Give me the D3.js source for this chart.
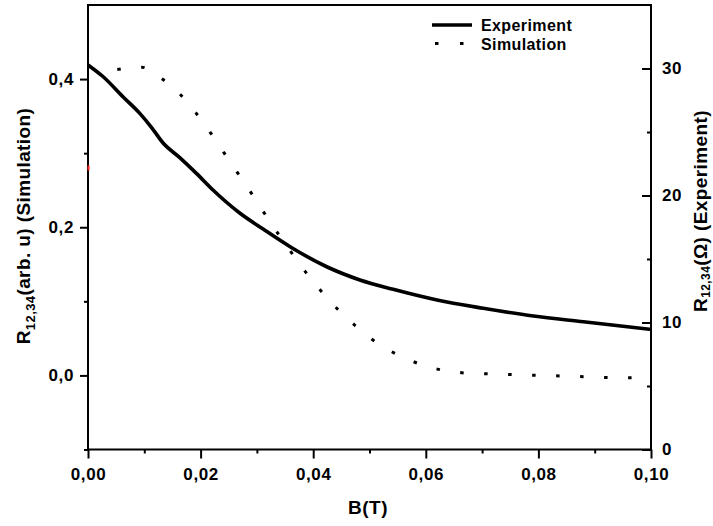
<!DOCTYPE html>
<html>
<head>
<meta charset="utf-8">
<script src="https://cdn.jsdelivr.net/npm/d3@7"></script>
<style>
  html, body { margin: 0; padding: 0; background: #fff; }
  svg { display: block; }
  text { font-family: "Liberation Sans", Arial, sans-serif; fill: #000; }
</style>
</head>
<body>
<svg id="chart" width="713" height="526"></svg>
<script>
// Magnetic field B (T) and measured four-terminal resistance R12,34 (Ω)
const expB = [0, 0.0027, 0.0062, 0.0092, 0.0113, 0.0133, 0.0163, 0.0193, 0.0222, 0.0270,
              0.0311, 0.0359, 0.0424, 0.0483, 0.0542, 0.0620, 0.0702, 0.0791, 0.0880, 0.1000];
const expR = [30.28, 29.35, 27.78, 26.47, 25.35, 24.15, 22.98, 21.72, 20.43, 18.60,
              17.36, 15.97, 14.39, 13.35, 12.61, 11.77, 11.12, 10.51, 10.06, 9.46];

// Simulated R12,34 (arb. u) versus B (T)
const simB = [0.0052, 0.0095, 0.0132, 0.0163, 0.0192, 0.0219, 0.0242, 0.0267, 0.0291, 0.0314,
              0.0338, 0.0363, 0.0389, 0.0415, 0.0444, 0.0475, 0.0511, 0.0547, 0.0587, 0.0630,
              0.0675, 0.0717, 0.0762, 0.0805, 0.0849, 0.0893, 0.0938, 0.1000];
const simR = [0.413, 0.416, 0.400, 0.380, 0.354, 0.326, 0.300, 0.272, 0.245, 0.218,
              0.191, 0.164, 0.137, 0.113, 0.089, 0.067, 0.045, 0.029, 0.016, 0.007,
              0.003, 0.002, 0.001, 0.000, -0.001, -0.002, -0.003, -0.003];

// Tick values
const xMajor = [0, 0.02, 0.04, 0.06, 0.08, 0.10];
const xMinor = [0.01, 0.03, 0.05, 0.07, 0.09];
const leftMajor = [0.0, 0.2, 0.4];
const leftMinor = [-0.1, 0.1, 0.3];
const rightMajor = [0, 10, 20, 30];
const rightMinor = [5, 15, 25];

const seriesNames = ["Experiment", "Simulation"];

const svg = d3.select("#chart");
const L = 88, R = 651, T = 5, B = 449.5;

const x = d3.scaleLinear().domain([0, 0.1]).range([L, R]);
const yL = d3.scaleLinear().domain([-0.1, 0.5]).range([B, T]);
const yR = d3.scaleLinear().domain([0, 35]).range([B, T]);

const comma = f => v => f(v).replace(".", ",");

function styleAxis(g, fontSize) {
  g.select(".domain").remove();
  g.selectAll(".tick line").attr("stroke", "#000").attr("stroke-width", 2);
  g.selectAll(".tick text")
    .style("font-family", "'Liberation Sans', Arial, sans-serif")
    .style("font-weight", "bold")
    .style("font-size", fontSize + "px")
    .style("letter-spacing", "0.6px")
    .attr("fill", "#000");
}

// Bottom axis
svg.append("g").attr("transform", `translate(0,${B})`)
  .call(d3.axisBottom(x).tickValues(xMajor).tickSize(9).tickPadding(9)
        .tickFormat(comma(d3.format(".2f"))))
  .call(g => styleAxis(g, 17));
svg.append("g").attr("transform", `translate(0,${B})`)
  .call(d3.axisBottom(x).tickValues(xMinor).tickSize(4).tickFormat(""))
  .call(g => styleAxis(g, 17));

// Left axis (simulation)
svg.append("g").attr("transform", `translate(${L},0)`)
  .call(d3.axisLeft(yL).tickValues(leftMajor).tickSize(8).tickPadding(6)
        .tickFormat(comma(d3.format(".1f"))))
  .call(g => styleAxis(g, 17));
svg.append("g").attr("transform", `translate(${L},0)`)
  .call(d3.axisLeft(yL).tickValues(leftMinor).tickSize(4).tickFormat(""))
  .call(g => styleAxis(g, 17));

// Right axis (experiment), ticks pointing inward
svg.append("g").attr("transform", `translate(${R},0)`)
  .call(d3.axisRight(yR).tickValues(rightMajor).tickSizeInner(-9).tickSizeOuter(0).tickPadding(11)
        .tickFormat(d3.format("d")))
  .call(g => styleAxis(g, 17));
svg.append("g").attr("transform", `translate(${R},0)`)
  .call(d3.axisRight(yR).tickValues(rightMinor).tickSizeInner(-4).tickSizeOuter(0).tickFormat(""))
  .call(g => styleAxis(g, 17));

// Frame
svg.append("rect").attr("x", L).attr("y", T).attr("width", R - L).attr("height", B - T)
  .attr("fill", "none").attr("stroke", "#000").attr("stroke-width", 2);

// Small red mark on the left axis
svg.append("rect").attr("x", L - 0.5).attr("y", yL(0.28) - 2.5).attr("width", 2).attr("height", 5)
  .attr("fill", "#ff2020");

// Curves
const expLine = d3.line().x(d => x(d[0])).y(d => yR(d[1])).curve(d3.curveMonotoneX);
const simLine = d3.line().x(d => x(d[0])).y(d => yL(d[1])).curve(d3.curveMonotoneX);

svg.append("path").datum(expB.map((b, i) => [b, expR[i]]))
  .attr("d", expLine).attr("fill", "none").attr("stroke", "#000")
  .attr("stroke-width", 3.6).attr("stroke-linejoin", "round");

svg.append("path").datum(simB.map((b, i) => [b, simR[i]]))
  .attr("d", simLine).attr("fill", "none").attr("stroke", "#000")
  .attr("stroke-width", 3).attr("stroke-dasharray", "3.5 20.5");

// Legend
const lg = svg.append("g").attr("class", "legend");
lg.append("line").attr("x1", 432).attr("x2", 472).attr("y1", 25).attr("y2", 25)
  .attr("stroke", "#000").attr("stroke-width", 3.6);
lg.append("line").attr("x1", 435).attr("x2", 472).attr("y1", 43.5).attr("y2", 43.5)
  .attr("stroke", "#000").attr("stroke-width", 3).attr("stroke-dasharray", "3.5 21.5");
lg.selectAll("text.item").data(seriesNames).join("text").attr("class", "item")
  .attr("x", 481).attr("y", (d, i) => 31 + i * 19)
  .style("font-weight", "bold").style("font-size", "16px").style("letter-spacing", "0.4px")
  .text(d => d);

// Axis titles
svg.append("text").attr("x", 368).attr("y", 514).attr("text-anchor", "middle")
  .style("font-weight", "bold").style("font-size", "19px").style("letter-spacing", "0.5px")
  .text("B(T)");

const leftTitle = svg.append("text")
  .attr("transform", "translate(30,226) rotate(-90)").attr("text-anchor", "middle")
  .style("font-weight", "bold").style("font-size", "19px").style("letter-spacing", "0.4px");
leftTitle.append("tspan").text("R");
leftTitle.append("tspan").attr("dy", 5).style("font-size", "13px").text("12,34");
leftTitle.append("tspan").attr("dy", -5).text("(arb. u) (Simulation)");

const rightTitle = svg.append("text")
  .attr("transform", "translate(707,211) rotate(-90)").attr("text-anchor", "middle")
  .style("font-weight", "bold").style("font-size", "19px").style("letter-spacing", "0.4px");
rightTitle.append("tspan").text("R");
rightTitle.append("tspan").attr("dy", 3).style("font-size", "12px").text("12,34");
rightTitle.append("tspan").attr("dy", -3).text("(Ω) (Experiment)");
</script>
</body>
</html>
